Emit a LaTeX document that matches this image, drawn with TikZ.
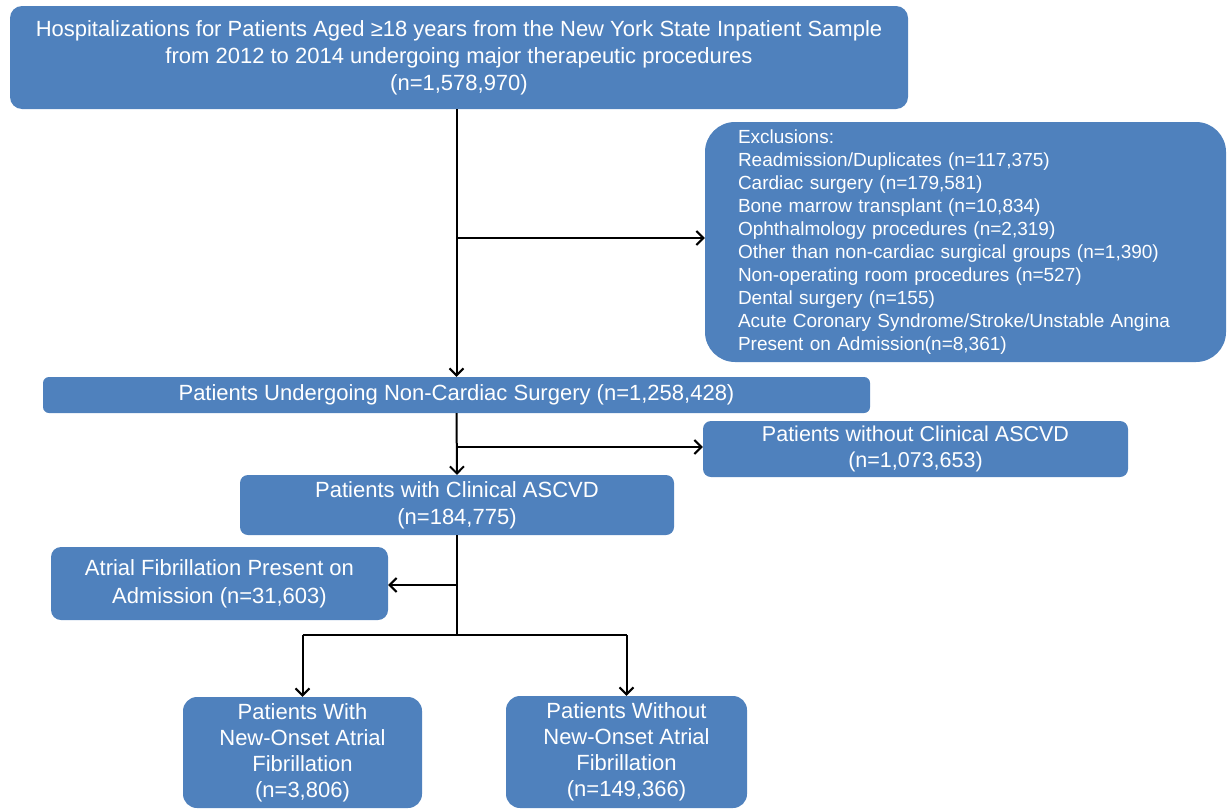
\documentclass[tikz,border=0pt]{standalone}
\usepackage{fontspec}
\setmainfont{Liberation Sans}
\usetikzlibrary{arrows.meta}
\definecolor{boxblue}{HTML}{4F81BD}
\tikzset{
  box/.style={fill=boxblue, text=white, rounded corners=12pt, inner sep=0pt, align=center},
  arr/.style={-{Straight Barb[length=7pt,width=14pt,line width=2pt]}, line width=2pt, draw=black},
  ln/.style={line width=2pt, draw=black}
}
\begin{document}
\begin{tikzpicture}[x=1pt,y=-1pt]
\useasboundingbox (0,0) rectangle (1228,811);
\node[box, minimum width=898pt, minimum height=103pt, font=\fontsize{22}{27}\selectfont] (top) at (459,57.5)
  {Hospitalizations for Patients Aged ≥18 years from the New York State Inpatient Sample\\
   from 2012 to 2014 undergoing major therapeutic procedures\\(n=1,578,970)};
\node[box, rounded corners=30pt, minimum width=521pt, minimum height=240pt, text width=455pt, align=left,
  font=\fontsize{19}{23}\selectfont] (excl) at (965.5,242)
  {Exclusions:\\
   Readmission/Duplicates (n=117,375)\\
   Cardiac surgery (n=179,581)\\
   Bone marrow transplant (n=10,834)\\
   Ophthalmology procedures (n=2,319)\\
   Other than non-cardiac surgical groups (n=1,390)\\
   Non-operating room procedures (n=527)\\
   Dental surgery (n=155)\\
   Acute Coronary Syndrome/Stroke/Unstable Angina\\
   Present on Admission(n=8,361)};
\node[box, rounded corners=6pt, minimum width=827pt, minimum height=36pt, font=\fontsize{22}{26}\selectfont] (noncard) at (456.5,395)
  {Patients Undergoing Non-Cardiac Surgery (n=1,258,428)};
\node[box, rounded corners=8pt, minimum width=425pt, minimum height=56pt, font=\fontsize{21.5}{26}\selectfont] (without) at (915.5,449)
  {Patients without Clinical ASCVD\\(n=1,073,653)};
\node[box, rounded corners=8pt, minimum width=434pt, minimum height=60pt, font=\fontsize{22}{27}\selectfont] (ascvd) at (457,505)
  {Patients with Clinical ASCVD\\(n=184,775)};
\node[box, rounded corners=10pt, minimum width=337pt, minimum height=73pt, font=\fontsize{22}{28}\selectfont] (af) at (219.5,583.5)
  {Atrial Fibrillation Present on\\Admission (n=31,603)};
\node[box, rounded corners=14pt, minimum width=239pt, minimum height=111pt, font=\fontsize{22}{26}\selectfont] (withaf) at (302.5,752.5)
  {Patients With\\New-Onset Atrial\\Fibrillation\\(n=3,806)};
\node[box, rounded corners=14pt, minimum width=241pt, minimum height=112pt, font=\fontsize{22}{26}\selectfont] (withoutaf) at (626.5,752)
  {Patients Without\\New-Onset Atrial\\Fibrillation\\(n=149,366)};
% connectors
\coordinate (b1) at (457,238);
\coordinate (b2) at (457,447);
\coordinate (b3) at (457,585);
\coordinate (b4) at (457,635);
\draw[arr] (noncard.north |- top.south) -- (noncard.north);
\draw[arr] (b1) -- (b1 -| excl.west);
\draw[arr] (noncard.south) -- (ascvd.north);
\draw[arr] (b2) -- (b2 -| without.west);
\draw[ln] (ascvd.south) -- (b4);
\draw[arr] (b3) -- (b3 -| af.east);
\draw[arr] (withaf.north |- b4) -- (withaf.north);
\draw[arr] (withoutaf.north |- b4) -- (withoutaf.north);
\draw[ln] (withaf.north |- b4) -- (withoutaf.north |- b4);
\end{tikzpicture}
\end{document}
